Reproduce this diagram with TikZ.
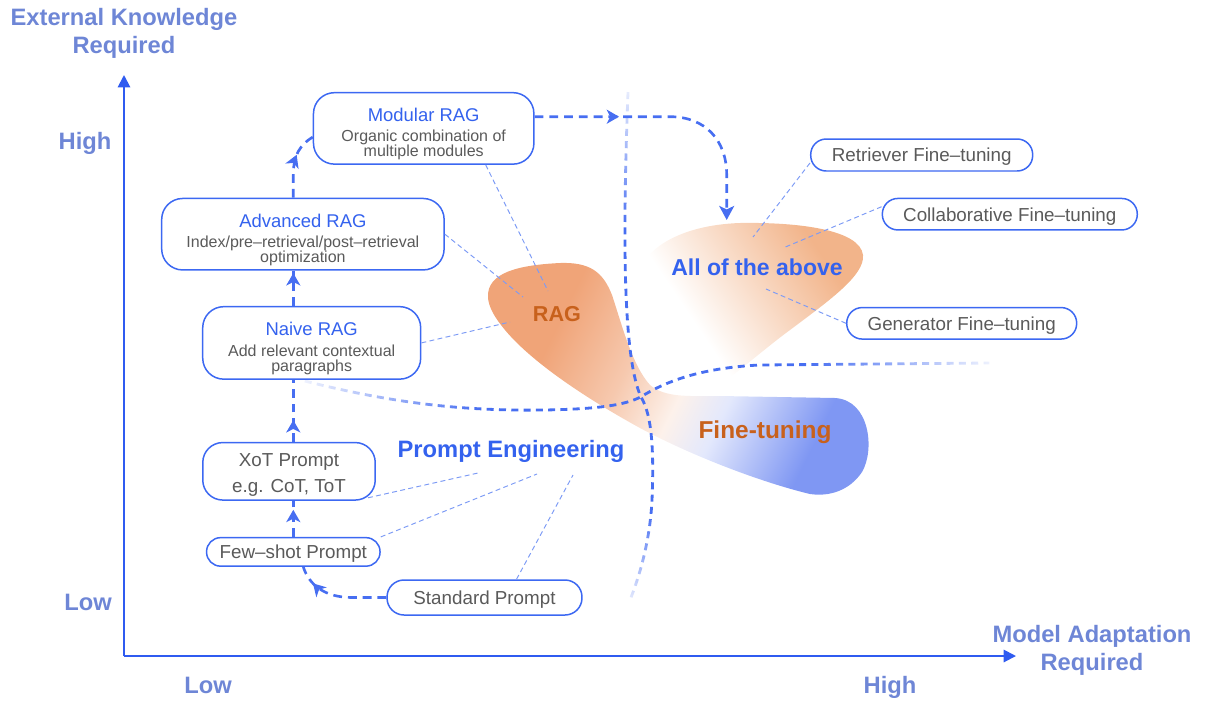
\documentclass[tikz,border=0pt]{standalone}
\usepackage{fontspec}
\setmainfont{Liberation Sans}
\usetikzlibrary{arrows.meta,decorations.markings,fadings,calc}
\definecolor{axisblue}{HTML}{2F5BF0}
\definecolor{lblblue}{HTML}{6E86D6}
\definecolor{boxblue}{HTML}{3C68F2}
\definecolor{ttlblue}{HTML}{3462EE}
\definecolor{txtgray}{HTML}{5A5A5A}
\definecolor{leadblue}{HTML}{7D9BF5}
\definecolor{dashblue}{HTML}{476EF1}
\definecolor{orgtxt}{HTML}{C8611C}
\definecolor{ragorange}{HTML}{F0A478}
\definecolor{ftblue}{HTML}{7F97F3}
\definecolor{allorange}{HTML}{F2B48A}
\pgfdeclarehorizontalshading{ragft}{100bp}{color(0bp)=(ragorange); color(30bp)=(ragorange); color(42bp)=(ragorange!60!white); color(51bp)=(ragorange!15!white); color(58bp)=(ftblue!22!white); color(72bp)=(ftblue); color(100bp)=(ftblue)}
\pgfdeclarehorizontalshading{allshade}{100bp}{color(0bp)=(white); color(38bp)=(white); color(72bp)=(allorange); color(100bp)=(allorange)}
\begin{tikzfadingfrompicture}[name=fadeV]
  \fill[transparent!0] (-50bp,-16.5bp) rectangle (50bp,11.8bp);
  \shade[top color=transparent!88, bottom color=transparent!0] (-50bp,11.5bp) rectangle (50bp,25bp);
  \fill[transparent!88] (-50bp,25bp) rectangle (50bp,50bp);
  \shade[top color=transparent!0, bottom color=transparent!88] (-50bp,-25bp) rectangle (50bp,-16.2bp);
  \fill[transparent!88] (-50bp,-50bp) rectangle (50bp,-25bp);
\end{tikzfadingfrompicture}
\begin{tikzfadingfrompicture}[name=fadeH]
  \fill[transparent!0] (-12.5bp,-50bp) rectangle (11.8bp,50bp);
  \shade[left color=transparent!92, right color=transparent!0] (-25bp,-50bp) rectangle (-12.2bp,50bp);
  \fill[transparent!92] (-50bp,-50bp) rectangle (-25bp,50bp);
  \shade[left color=transparent!0, right color=transparent!92] (11.5bp,-50bp) rectangle (25bp,50bp);
  \fill[transparent!92] (25bp,-50bp) rectangle (50bp,50bp);
\end{tikzfadingfrompicture}
\newcommand\ttl[1]{{\fontsize{10.5}{12}\selectfont\color{ttlblue}\rule{0pt}{14pt}#1}}
\begin{document}
\begin{tikzpicture}[x=0.02cm, y=-0.02cm,
  box/.style={draw=boxblue, line width=0.85pt, fill=white, align=center, inner sep=0pt, text=txtgray},
  bigbox/.style={box, rounded corners=0.42cm, font=\fontsize{9.1}{8.5}\selectfont},
  pill/.style={box, text depth=0pt, font=\fontsize{10.7}{12}\selectfont},
  conn/.style={draw=dashblue, line width=1.5pt, dash pattern=on 5pt off 3.4pt},
  bigdash/.style={draw=dashblue, line width=1.6pt, dash pattern=on 4pt off 3pt},
  lead/.style={draw=leadblue, line width=0.55pt, dash pattern=on 2.8pt off 1.9pt},
  axisline/.style={draw=axisblue, line width=1.1pt, -{Triangle[length=7pt,width=7pt]}},
  axlbl/.style={font=\bfseries\fontsize{13.5}{15}\selectfont, text=lblblue, anchor=base, inner sep=0pt},
  region/.style={font=\bfseries\fontsize{13.5}{15}\selectfont, anchor=base, inner sep=0pt},
  midarrow/.style={postaction={decorate}, decoration={markings, mark=at position #1 with {\arrow{Stealth[length=7pt,width=8pt,inset=2pt]}}}}
]
\useasboundingbox (0,0) rectangle (1206,700);

% ---- blobs
\shade[shading=allshade, shading angle=34]
  (633,300) .. controls (630,250) and (680,225) .. (740,223)
  .. controls (800,222) and (860,230) .. (863,255)
  .. controls (865,275) and (830,300) .. (790,330)
  .. controls (760,352) and (730,380) .. (708,392)
  .. controls (690,400) and (665,395) .. (650,375)
  .. controls (638,355) and (634,330) .. (633,300) -- cycle;
\shade[shading=ragft, shading angle=-26]
  (488,298) .. controls (486,272) and (520,265) .. (560,263)
  .. controls (590,262) and (603,272) .. (612,295)
  .. controls (622,325) and (632,365) .. (650,385)
  .. controls (665,398) and (690,396) .. (720,396)
  -- (835,398)
  .. controls (870,400) and (875,450) .. (862,472)
  .. controls (850,490) and (830,497) .. (810,494)
  .. controls (760,482) and (690,455) .. (640,428)
  .. controls (580,395) and (530,360) .. (505,330)
  .. controls (495,318) and (489,308) .. (488,298) -- cycle;

% ---- big dashed separators
\draw[bigdash, path fading=fadeV]
  (628,92) .. controls (622,250) and (624,360) .. (641,397)
  .. controls (652,415) and (654,450) .. (652,500)
  .. controls (650,540) and (640,575) .. (630,600);
\draw[bigdash, path fading=fadeH]
  (305,381) .. controls (400,405) and (470,411) .. (545,410)
  .. controls (600,409) and (625,405) .. (641,397)
  .. controls (665,382) and (700,368) .. (760,365) -- (990,363);

% ---- axes
\coordinate (origin) at (124,656);
\coordinate (ytip) at (124,75);
\coordinate (xtip) at (1016,656);
\draw[axisline] (origin) -- (ytip);
\draw[axisline] (origin) -- (xtip);
\node[axlbl] (ylbl1) at (124,25) {External Knowledge};
\node[axlbl] (ylbl2) at (124,53) {Required};
\node[axlbl] (xlbl1) at (1092,642) {Model Adaptation};
\node[axlbl] (xlbl2) at (1092,670) {Required};
\node[axlbl] (yhigh) at (85,149) {High};
\node[axlbl] (ylow) at (88,610) {Low};
\node[axlbl] (xlow) at (208,693) {Low};
\node[axlbl] (xhigh) at (890,693) {High};

% ---- leader end points
\coordinate (r1) at (548,291);
\coordinate (r2) at (523,297);
\coordinate (r3) at (510,322);
\coordinate (p1) at (478,473);
\coordinate (p2) at (537,474);
\coordinate (p3) at (573,475);
\coordinate (a1) at (753,237);
\coordinate (a2) at (783,248);
\coordinate (a3) at (766,289);
\coordinate (allin) at (726.7,220);

% ---- boxes
\node[bigbox, minimum width=4.41cm, minimum height=1.43cm] (mod) at (423.7,128.4)
  {\ttl{Modular RAG}\\[3pt]Organic combination of\\multiple modules};
\node[bigbox, minimum width=5.65cm, minimum height=1.43cm] (adv) at (302.9,234.2)
  {\ttl{Advanced RAG}\\[3pt]Index/pre–retrieval/post–retrieval\\optimization};
\node[bigbox, minimum width=4.36cm, minimum height=1.45cm] (naive) at (311.7,342.9)
  {\ttl{Naive RAG}\\[3pt]Add relevant contextual\\paragraphs};
\node[pill, rounded corners=0.4cm, minimum width=3.45cm, minimum height=1.15cm] (xot) at (289,471.3)
  {\rule{0pt}{9pt}XoT Prompt\\[3pt]e.g. CoT, ToT};
\node[pill, rounded corners=0.28cm, minimum width=3.47cm, minimum height=0.57cm] (few) at (293.3,551.9)
  {Few–shot Prompt};
\node[pill, rounded corners=0.34cm, minimum width=3.9cm, minimum height=0.7cm] (std) at (484.5,597.5)
  {Standard Prompt};
\node[pill, rounded corners=0.31cm, minimum width=4.44cm, minimum height=0.64cm] (retr) at (921.7,155)
  {Retriever Fine–tuning};
\node[pill, rounded corners=0.31cm, minimum width=5.10cm, minimum height=0.63cm] (coll) at (1009.8,214.2)
  {Collaborative Fine–tuning};
\node[pill, rounded corners=0.31cm, minimum width=4.60cm, minimum height=0.63cm] (gen) at (961.7,323.3)
  {Generator Fine–tuning};

% ---- leaders
\draw[lead] ($(mod.south)+(62,0)$) -- (r1);
\draw[lead] (adv.east) -- (r2);
\draw[lead] (naive.east) -- (r3);
\draw[lead] ($(xot.south east)+(-8,-3)$) -- (p1);
\draw[lead] (few.north east) -- (p2);
\draw[lead] ($(std.north)+(32,0)$) -- (p3);
\draw[lead] ($(retr.west)+(0,8)$) -- (a1);
\draw[lead] ($(coll.west)+(0,-7.5)$) -- (a2);
\draw[lead] (gen.west) -- (a3);

% ---- progression connectors
\draw[conn, midarrow=0.8] (std.west) -- (352,597.5)
  .. controls (325,597.5) and (309,585) .. ($(few.south)+(10,0)$);
\draw[conn, midarrow=0.75] (few.north) -- (xot.south -| few.north);
\draw[conn, midarrow=0.35] (xot.north -| few.north) -- (naive.south -| few.north);
\draw[conn, midarrow=0.93] (naive.north -| few.north) -- (adv.south -| few.north);
\draw[conn, midarrow=0.64] (adv.north -| few.north) -- (293.3,175)
  .. controls (293.3,155) and (300,145) .. ($(mod.west)+(0,8.6)$);
\draw[conn, midarrow=0.31, -{Stealth[length=8pt,width=8.5pt,inset=2pt]}]
  ($(mod.east)+(0,-11.7)$) -- (670,116.7)
  .. controls (705,116.7) and (726.7,140) .. (726.7,175) -- (allin);

% ---- region labels
\node[region, text=orgtxt, font=\bfseries\fontsize{12.3}{14}\selectfont] (raglbl) at (557,321.5) {RAG};
\node[region, text=ttlblue, font=\bfseries\fontsize{13.1}{15}\selectfont] (alllbl) at (757,275) {All of the above};
\node[region, text=orgtxt, font=\bfseries\fontsize{13.9}{15}\selectfont] (ftlbl) at (765,438.3) {Fine-tuning};
\node[region, text=ttlblue] (pelbl) at (511,457.7) {Prompt Engineering};
\end{tikzpicture}
\end{document}
